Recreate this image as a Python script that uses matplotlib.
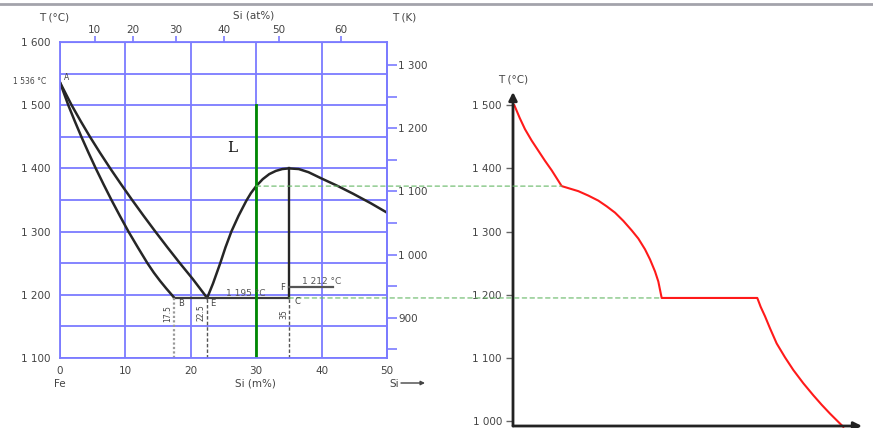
import numpy as np
import matplotlib.pyplot as plt
from matplotlib.patches import ConnectionPatch
from matplotlib.ticker import MultipleLocator, FixedLocator, FuncFormatter
from matplotlib.lines import Line2D

# ---------------- data ----------------
# Fe-Si phase diagram (x: Si wt%, y: T in °C)
liq_left_si = [0, 1.78, 3.15, 4.58, 6.1, 7.68, 9.33, 11.03, 12.78, 14.58, 16.43, 18.33, 20.3, 22.5]
liq_left_T = [1536, 1500, 1475, 1450, 1425, 1400, 1375, 1350, 1325, 1300, 1275, 1250, 1225, 1195]

sol_left_si = [0, 1.27, 2.25, 3.27, 4.35, 5.47, 6.65, 7.87, 9.15, 10.47, 11.9, 13.37, 14.35, 15.3, 16.25, 17.5]
sol_left_T = [1536, 1500, 1475, 1450, 1425, 1400, 1375, 1350, 1325, 1300, 1275, 1250, 1235, 1222, 1210, 1195]

liq_right_si = [22.5, 23.4, 24.5, 25.3, 26.2, 27.3, 28.5, 29.2, 30.0, 31.0, 32.0, 33.0, 34.0, 35.0,
                36.5, 38.0, 40.0, 42.5, 44.8, 47.5, 50.0]
liq_right_T = [1195, 1218, 1250, 1275, 1300, 1325, 1349, 1361, 1372, 1383, 1391, 1396, 1399, 1400,
               1399, 1394, 1384, 1372, 1360, 1345, 1330]

point_A = (0, 1536)
point_B = (17.5, 1195)
point_E = (22.5, 1195)
point_C = (35.0, 1195)
point_F = (35.0, 1212)
F_line_end = 41.7
max_T = 1400
alloy_si = 30
alloy_top_T = 1500
eutectic_T = 1195

# cooling curve (x: time, arbitrary units; y: T in °C)
cool_t = [0.38, 1.91, 3.44, 5.35, 7.26, 9.17, 11.08, 13.95,
          16.33, 18.72, 21.58, 24.45, 26.84, 29.23, 31.61, 34.0, 35.91, 37.82, 39.26, 40.69, 41.64, 42.6,
          70.0, 70.96, 72.21, 73.64, 75.55, 77.94, 80.32, 83.19, 86.05, 88.44, 90.83, 94.65]
cool_T = [1500, 1480, 1462, 1444, 1428, 1412, 1397, 1372,
          1368, 1364, 1357, 1349, 1340, 1330, 1317, 1302, 1289, 1272, 1256, 1237, 1221, 1195,
          1195, 1181, 1166, 1147, 1123, 1101, 1081, 1060, 1041, 1026, 1012, 991]
kink_idx = 7
plateau_idx = 21

x_ticks_wt = [0, 10, 20, 30, 40, 50]
y_ticks_C = [1100, 1200, 1300, 1400, 1500, 1600]
top_ticks_at = [10, 20, 30, 40, 50, 60]
right_ticks_K = [900, 1000, 1100, 1200, 1300]
cool_ticks = [1000, 1100, 1200, 1300, 1400, 1500]
K_OFFSET = 263.5  # as drawn in the original figure

# ---------------- figure ----------------
W, H = 873, 428
fig = plt.figure(figsize=(W / 100, H / 100), dpi=100)
plt.rcParams['font.family'] = ['DejaVu Sans']

def P(px, py):
    return px / W, 1 - py / H

TXT = '#444444'
BLUE = '#7b7bff'
FS = 7.5

def sep(v, p=None):
    return f"{int(round(v)):,}".replace(',', ' ')

# top gray rule
fig.add_artist(Line2D([0, 1], [1 - 4 / H] * 2, color='#a3a3ab', lw=2, transform=fig.transFigure))

# ---------- left: phase diagram ----------
ax = fig.add_axes([60 / W, 1 - 358 / H, 327 / W, 316 / H])
ax.set_xlim(0, 50)
ax.set_ylim(1100, 1600)
for s in ax.spines.values():
    s.set_color(BLUE)
    s.set_linewidth(1.3)
ax.xaxis.set_major_locator(FixedLocator(x_ticks_wt))
ax.yaxis.set_major_locator(FixedLocator(y_ticks_C))
ax.yaxis.set_minor_locator(MultipleLocator(50))
ax.yaxis.set_major_formatter(FuncFormatter(sep))
ax.grid(True, which='both', color=BLUE, lw=1.3)
ax.set_axisbelow(True)
ax.tick_params(axis='both', which='both', length=0, labelsize=FS, labelcolor=TXT)
ax.tick_params(axis='x', pad=6)
ax.tick_params(axis='y', pad=7)

def wt2at(w):
    w = np.clip(np.asarray(w, dtype=float), 1e-9, 100 - 1e-9)
    a = w / 28.0855
    b = (100 - w) / 55.845
    return 100 * a / (a + b)

def at2wt(a):
    a = np.clip(np.asarray(a, dtype=float), 1e-9, 100 - 1e-9)
    m = a * 28.0855
    n = (100 - a) * 55.845
    return 100 * m / (m + n)

top = ax.secondary_xaxis('top', functions=(wt2at, at2wt))
top.xaxis.set_major_locator(FixedLocator(top_ticks_at))
top.tick_params(length=4, width=1.2, color=BLUE, labelsize=FS, labelcolor=TXT, pad=1)
top.spines['top'].set_color(BLUE)

right = ax.secondary_yaxis('right', functions=(lambda c: c - K_OFFSET, lambda k: k + K_OFFSET))
right.yaxis.set_major_locator(FixedLocator(right_ticks_K))
right.yaxis.set_minor_locator(MultipleLocator(50))
right.yaxis.set_major_formatter(FuncFormatter(sep))
right.tick_params(which='both', length=7, width=1.2, color=BLUE, labelsize=FS, labelcolor=TXT, pad=1)
right.spines['right'].set_color(BLUE)
right.spines['right'].set_linewidth(1.3)

LINE = '#262626'
ax.plot(liq_left_si, liq_left_T, color=LINE, lw=1.8, solid_joinstyle='round')
ax.plot(sol_left_si, sol_left_T, color=LINE, lw=1.8, solid_joinstyle='round')
ax.plot(liq_right_si, liq_right_T, color=LINE, lw=1.8, solid_joinstyle='round')
ax.plot([point_B[0], point_C[0]], [eutectic_T, eutectic_T], color='#3a3a3a', lw=1.6)
ax.plot([point_C[0], point_C[0]], [eutectic_T, max_T], color=LINE, lw=1.7)
ax.plot([point_F[0], F_line_end], [point_F[1], point_F[1]], color='#555555', lw=1.6)
ax.plot([alloy_si, alloy_si], [1100, alloy_top_T], color='#008a00', lw=2)
ax.plot([point_B[0]] * 2, [1100, eutectic_T], color='#9a9a9a', ls=(0, (1, 1)), lw=1.6)
ax.plot([point_E[0]] * 2, [1100, eutectic_T], color='#555555', ls=(0, (2.5, 1.5)), lw=1.0)
ax.plot([point_C[0]] * 2, [1100, eutectic_T], color='#555555', ls=(0, (2.5, 1.5)), lw=1.0)

# texts
fig.text(*P(54, 18), 'T (°C)', fontsize=FS, color=TXT, ha='center', va='center')
fig.text(*P(254, 16), 'Si (at%)', fontsize=FS, color=TXT, ha='center', va='center')
fig.text(*P(404, 18), 'T (K)', fontsize=FS, color=TXT, ha='center', va='center')
fig.text(*P(30, 82), '1 536 °C', fontsize=5.5, color=TXT, ha='center', va='center')
fig.text(*P(67, 78), 'A', fontsize=5.5, color=TXT, ha='center', va='center')
fig.text(*P(232, 148), 'L', fontsize=11, color='#111111', ha='center', va='center', family='DejaVu Serif')
fig.text(*P(246, 293), '1 195 °C', fontsize=6.5, color='#555555', ha='center', va='center')
fig.text(*P(322, 281), '1 212 °C', fontsize=6.5, color='#555555', ha='center', va='center')
fig.text(*P(283, 287), 'F', fontsize=6, color=TXT, ha='center', va='center')
fig.text(*P(181, 303), 'B', fontsize=6, color=TXT, ha='center', va='center')
fig.text(*P(213, 304), 'E', fontsize=6, color=TXT, ha='center', va='center')
fig.text(*P(297, 302), 'C', fontsize=6, color=TXT, ha='center', va='center')
fig.text(*P(168, 314), '17.5', fontsize=5.5, color=TXT, ha='center', va='center', rotation=90)
fig.text(*P(201, 313), '22.5', fontsize=5.5, color=TXT, ha='center', va='center', rotation=90)
fig.text(*P(284, 314), '35', fontsize=5.5, color=TXT, ha='center', va='center', rotation=90)
fig.text(*P(60, 384), 'Fe', fontsize=FS, color=TXT, ha='center', va='center')
fig.text(*P(255, 384), 'Si (m%)', fontsize=FS, color=TXT, ha='center', va='center')
fig.text(*P(394, 384), 'Si', fontsize=FS, color=TXT, ha='center', va='center')
fig.add_artist(ConnectionPatch(P(401, 383), P(425, 383), 'figure fraction', 'figure fraction',
                               arrowstyle='-|>', color='#444444', lw=1, mutation_scale=6))

# ---------- right: cooling curve ----------
ax2 = fig.add_axes([513 / W, 1 - 426 / H, (862 - 513) / W, (426 - 92) / H])
ax2.set_xlim(0, 100)
ax2.set_ylim(992.4, 1520.9)
for s in ax2.spines.values():
    s.set_visible(False)
ax2.set_xticks([])
ax2.yaxis.set_major_locator(FixedLocator(cool_ticks))
ax2.yaxis.set_major_formatter(FuncFormatter(sep))
ax2.tick_params(axis='y', length=5, width=1, color='#666666', labelsize=FS, labelcolor=TXT, pad=3)
ax2.patch.set_alpha(0)
ax2.plot(cool_t, cool_T, color='#ff1a1a', lw=1.5, clip_on=False, zorder=3, solid_joinstyle='round')
ax2.annotate('', xy=(0, 1), xytext=(0, 0), xycoords='axes fraction',
             arrowprops=dict(arrowstyle='-|>', color='#222222', lw=2, mutation_scale=12, shrinkA=0, shrinkB=0))
ax2.annotate('', xy=(1, 0), xytext=(0, 0), xycoords='axes fraction',
             arrowprops=dict(arrowstyle='-|>', color='#222222', lw=2, mutation_scale=12, shrinkA=0, shrinkB=0))
fig.text(*P(513, 80), 'T (°C)', fontsize=FS, color=TXT, ha='center', va='center')

# dashed green construction lines
GREEN = '#66b866'
fig.add_artist(ConnectionPatch((alloy_si, cool_T[kink_idx]), (cool_t[kink_idx], cool_T[kink_idx]),
                               ax.transData, ax2.transData, color=GREEN, ls=(0, (4, 3)), lw=0.8))
fig.add_artist(ConnectionPatch((point_C[0], eutectic_T), (cool_t[plateau_idx], eutectic_T),
                               ax.transData, ax2.transData, color=GREEN, ls=(0, (4, 3)), lw=0.8))

fig.savefig('out.png', dpi=100)
